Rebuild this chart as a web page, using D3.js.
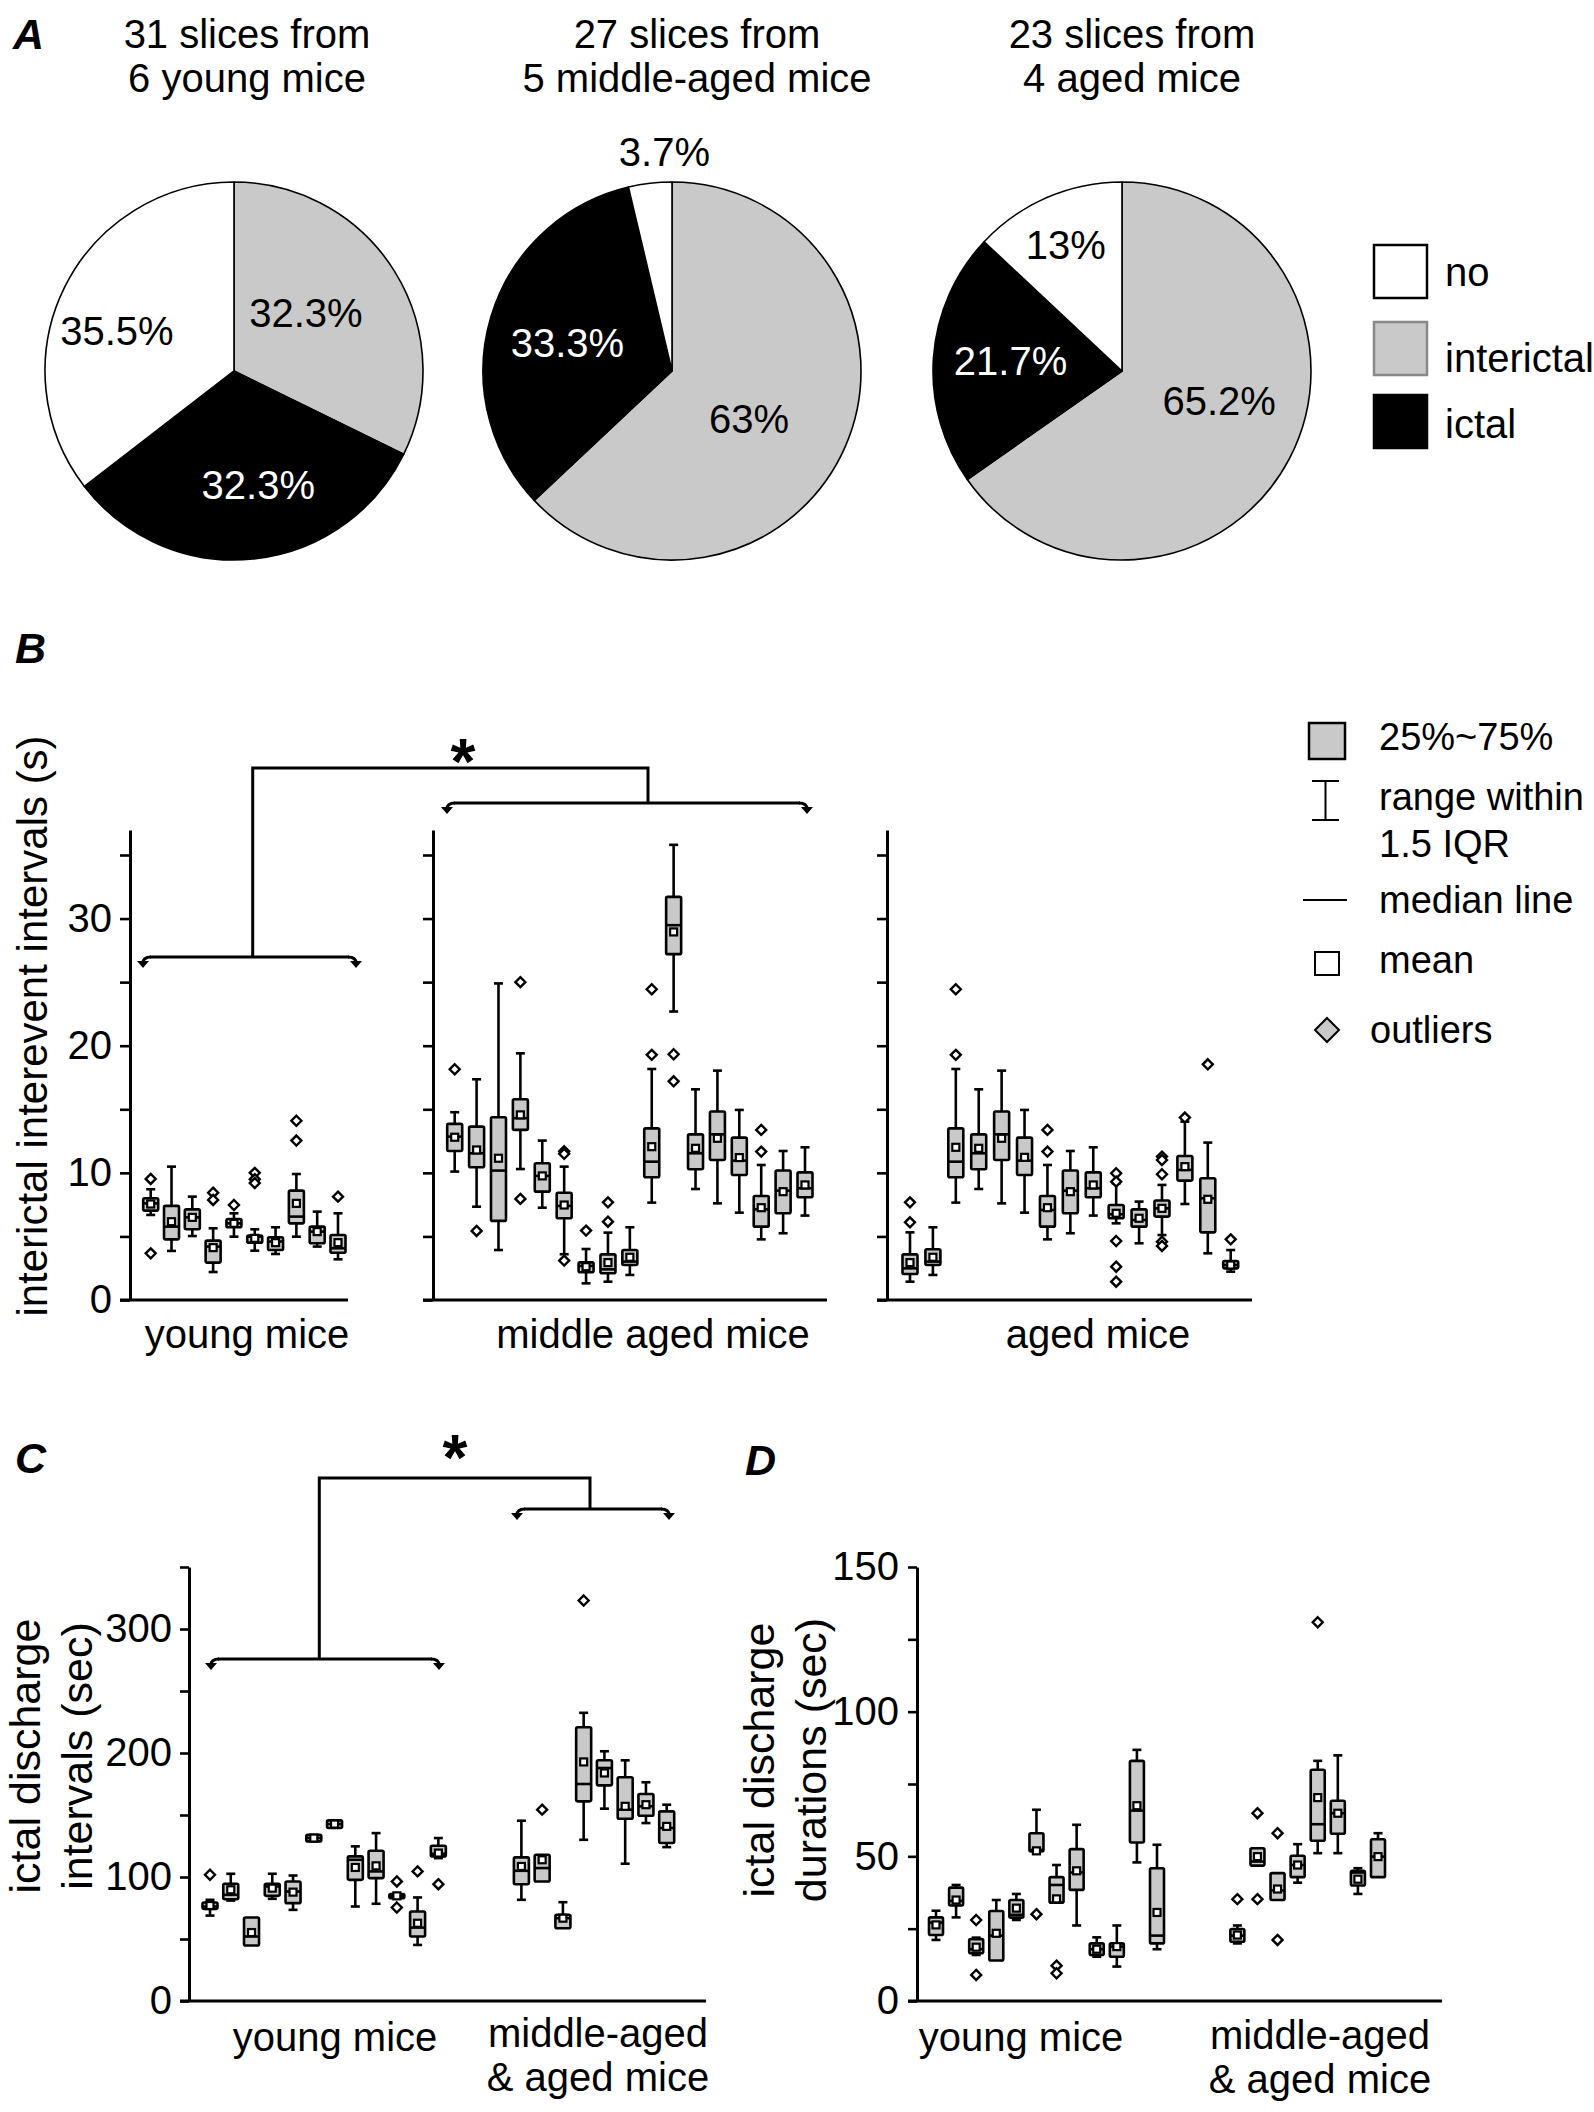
<!DOCTYPE html>
<html><head><meta charset="utf-8">
<script src="https://cdn.jsdelivr.net/npm/d3@7"></script>
<style>
body{margin:0;background:#fff}
svg{display:block;background:#fff}
text{font-family:"Liberation Sans",Arial,Helvetica,sans-serif}
</style>
</head><body>
<svg id="chart" width="1594" height="2112"></svg>
<script>
// ---------------- DATA ----------------
const pieTitles = [["31 slices from","6 young mice"],["27 slices from","5 middle-aged mice"],["23 slices from","4 aged mice"]];
const pieCategories = ["interictal","ictal","no"];
const pieYoung  = [32.3, 32.3, 35.5];
const pieMiddle = [63, 33.3, 3.7];
const pieAged   = [65.2, 21.7, 13];
const legendA   = ["no","interictal","ictal"];

const legendB = ["25%~75%","range within","1.5 IQR","median line","mean","outliers"];

// box stats: [lowWhisker, q1, median, q3, highWhisker, mean, outliers]
const bYoung = [
 [6.69,7.03,7.6,8.0,8.71,7.55,[9.52,3.67]],
 [3.86,4.77,5.77,7.4,10.49,6.16,[]],
 [5.03,5.56,6.5,7.13,8.13,6.5,[]],
 [2.2,2.94,4.2,4.67,5.64,4.12,[8.44,7.87]],
 [4.98,5.72,6.03,6.37,6.82,6.03,[7.47]],
 [3.88,4.51,4.98,5.06,5.56,4.85,[10.0,9.5,9.2]],
 [3.62,3.93,4.6,4.93,5.72,4.51,[]],
 [4.98,6.03,6.56,8.6,9.91,7.6,[14.1,12.54]],
 [4.2,4.46,5.38,5.77,6.95,5.38,[]],
 [3.2,3.72,4.07,5.11,6.82,4.51,[8.13]]
];
const bMiddle = [
 [10.1,11.72,12.85,13.85,14.77,12.8,[18.15]],
 [7.34,10.44,11.54,13.64,17.36,11.8,[5.43]],
 [3.93,6.22,10.18,14.37,24.9,11.15,[]],
 [10.3,13.38,14.3,15.79,19.4,14.56,[25.0,7.95]],
 [7.26,8.52,9.76,10.75,12.54,9.76,[]],
 [3.6,6.43,7.4,8.44,10.49,7.47,[11.7,11.5,3.1]],
 [1.31,2.18,2.68,2.96,4.01,2.62,[5.46]],
 [1.44,2.1,2.41,3.59,5.3,2.94,[7.68,6.16]],
 [1.97,2.75,3.02,3.93,5.72,3.36,[]],
 [7.66,9.65,10.88,13.5,18.17,12.06,[24.44,19.28]],
 [22.69,27.2,29.48,31.71,35.8,28.95,[19.33,17.2]],
 [8.73,10.28,11.54,13.03,16.57,11.93,[]],
 [7.6,11.01,13.03,14.82,18.04,12.72,[]],
 [6.87,9.83,10.96,12.77,14.95,11.2,[]],
 [4.77,5.77,7.13,8.18,10.62,7.26,[13.38,11.67]],
 [5.25,6.82,8.6,10.18,11.72,8.52,[]],
 [6.64,8.08,8.79,10.04,12.01,9.05,[]]
];
const bAged = [
 [1.44,2.05,2.49,3.59,5.32,2.94,[7.68,6.11]],
 [1.97,2.75,3.02,3.99,5.72,3.36,[]],
 [7.66,9.65,10.88,13.5,18.17,12.01,[24.44,19.28]],
 [8.73,10.28,11.54,13.03,16.57,11.93,[]],
 [7.6,11.01,13.03,14.82,18.04,12.72,[]],
 [6.87,9.83,10.96,12.77,14.95,11.22,[]],
 [4.77,5.77,7.08,8.18,10.62,7.26,[13.38,11.67]],
 [5.25,6.82,8.6,10.18,11.72,8.52,[]],
 [6.64,8.08,8.79,10.04,12.01,9.05,[]],
 [6.03,6.43,6.74,7.47,9.18,6.82,[9.97,9.31,4.64,2.62,1.44]],
 [4.46,5.77,6.29,7.13,7.74,6.43,[]],
 [5.11,6.56,7.21,7.82,9.05,7.21,[11.28,11.01,9.89,4.59,4.25]],
 [7.55,9.39,10.23,11.33,14.03,10.49,[14.35]],
 [3.67,5.32,8.0,9.57,12.38,7.92,[18.54]],
 [2.23,2.49,2.75,3.07,3.93,2.75,[4.77]]
];
const cYoung = [
 [68.9,74.3,76.2,79.4,81.6,77,[101.8]],
 [81,82.1,85.6,94.5,102.6,89.7,[]],
 [44.7,44.7,52,67.3,67.3,55.2,[]],
 [82.4,84.8,92.4,94.5,102.6,91,[]],
 [73.5,78.9,88.3,96.4,101.2,87.8,[]],
 [128.7,128.7,131.4,134,134,131.4,[]],
 [139.5,139.5,142.7,145.7,145.7,142.7,[]],
 [76.2,97.7,113.9,116.6,124.7,107.7,[]],
 [78.4,99.1,104.5,121.2,135.4,109,[]],
 [82.9,82.9,84.8,86.2,86.2,84.8,[96.4,75.4]],
 [45.2,52,59.2,72.2,83.5,62.7,[104.5]],
 [115.2,116.6,118.7,125.2,131.4,119.3,[94.2]]
];
const cOlder = [
 [81.6,94.2,105,115.8,145.4,108.5,[]],
 [96.4,96.4,107.2,117.9,117.9,113.9,[154.3]],
 [58.7,58.7,66.8,69.5,79.7,66.8,[]],
 [130,161,175,220.8,232.4,192.8,[323]],
 [155.1,173.9,187.9,194.1,201.4,183.9,[]],
 [110.7,147,154.3,180.4,194.1,157,[]],
 [143.5,149.4,157,166.9,176.4,158.3,[]],
 [124.1,127.4,139.5,152.9,158.3,140.8,[]]
];
const dYoung = [
 [21.1,22.8,27.1,28.9,31.2,26.3,[]],
 [28.9,33,34.6,39.2,40.1,34.9,[]],
 [15.9,16.5,17.9,21.4,21.9,18.6,[28,9]],
 [14,14,22.6,31.1,34.9,23.4,[]],
 [28,28.8,29.8,34.9,37,32.1,[]],
 [51.1,51.7,52.2,58,66.1,51.9,[30]],
 [34,34,40.1,42.8,47,35.3,[12.2,9.6]],
 [26.1,38.4,44.4,52.5,60.9,45,[]],
 [15.3,15.9,17.9,19.9,22,17.9,[]],
 [11.9,15.3,18.8,19.9,26.1,18.8,[]],
 [47.9,54.8,65.8,83,86.8,67.5,[]],
 [17.9,19.9,22.6,45.9,54,30.6,[]]
];
const dOlder = [
 [19.9,20.5,22.6,24.9,26.1,22.8,[35.2]],
 [46.8,46.8,48.2,52.8,52.8,49.9,[64.9,35.2]],
 [34.9,34.9,38.2,44.2,44.2,38.7,[58,21.1]],
 [40.9,42.8,47,50.2,54.2,47,[]],
 [51.1,55.4,61.1,79.9,83,70.3,[130.9]],
 [51.1,57.8,64.9,69.2,84.9,64.9,[]],
 [37,39.9,44.4,45,45.9,42.1,[]],
 [42.8,42.8,49.9,55.9,58,49.9,[]]
];

const bTicks = [0,5,10,15,20,25,30,35];
const bTickLabels = [0,10,20,30];
const cTicks = [0,50,100,150,200,250,300,350];
const cTickLabels = [0,100,200,300];
const dTicks = [0,25,50,75,100,125,150];
const dTickLabels = [0,50,100,150];

const bGroups = ["young mice","middle aged mice","aged mice"];
const cdGroups = [["young mice"],["middle-aged","& aged mice"]];
const bTitle = "interictal interevent intervals (s)";
const cTitle = ["ictal discharge","intervals (sec)"];
const dTitle = ["ictal discharge","durations (sec)"];

// ---------------- STYLE / LAYOUT ----------------
const GRAY = "#c9c9c9";
const catColor = {interictal: GRAY, ictal: "#000", no: "#fff"};
const FS = 40;
// label placement per pie slice: [angle (deg, clockwise from top), radius fraction]
const pieLabelPos = [
  [[51, 0.49], [168, 0.617], [289, 0.655]],
  [[122, 0.481], [285, 0.573], [358, 1.158]],
  [[107, 0.538], [275, 0.592], [336, 0.732]]
];

const svg = d3.select("#chart");

function txt(x, y, s, opt={}) {
  return svg.append("text").attr("x", x).attr("y", y)
    .attr("font-size", opt.size || FS)
    .attr("text-anchor", opt.anchor || "middle")
    .attr("fill", opt.fill || "#000")
    .attr("font-weight", opt.weight || "normal")
    .attr("font-style", opt.style || "normal")
    .text(s);
}

// panel letters
[["A",13,49],["B",15,663],["C",15,1473],["D",745,1475]].forEach(([s,x,y]) =>
  txt(x, y, s, {anchor:"start", weight:"bold", style:"italic", size:43}));

// ---------------- PANEL A : pies ----------------
const pieSets = [pieYoung, pieMiddle, pieAged];
const pieCx = [234, 672, 1122];
const pieCy = 371, pieR = 189;
const titleX = [247, 697, 1132];
const pieGen = d3.pie().sort(null).value(d => d.v);
const arc = d3.arc().innerRadius(0).outerRadius(pieR);

pieSets.forEach((vals, i) => {
  txt(titleX[i], 48, pieTitles[i][0]);
  txt(titleX[i], 92, pieTitles[i][1]);
  const g = svg.append("g").attr("transform", `translate(${pieCx[i]},${pieCy})`);
  const arcs = pieGen(vals.map((v, k) => ({v, c: pieCategories[k]})));
  g.selectAll("path").data(arcs).join("path")
    .attr("d", arc)
    .attr("fill", d => catColor[d.data.c])
    .attr("stroke", "#000").attr("stroke-width", 1.6).attr("stroke-linejoin","round");
  arcs.forEach((d, k) => {
    const [deg, rf] = pieLabelPos[i][k];
    const a = deg * Math.PI / 180;
    const r = pieR * rf;
    g.append("text")
      .attr("x", Math.sin(a) * r).attr("y", -Math.cos(a) * r)
      .attr("dy", "0.35em")
      .attr("text-anchor", "middle")
      .attr("font-size", FS)
      .attr("fill", d.data.c === "ictal" ? "#fff" : "#000")
      .text(d.data.v + "%");
  });
});

// legend A
legendA.forEach((c, i) => {
  const y0 = [245, 322, 395][i];
  svg.append("rect").attr("x", 1374).attr("y", y0).attr("width", 53).attr("height", 53)
    .attr("fill", catColor[c]).attr("stroke", c === "interictal" ? "#888" : "#000").attr("stroke-width", 2.5);
  txt(1445, [286, 372, 438][i], c, {anchor:"start"});
});

// ---------------- box drawing ----------------
function drawBoxes(data, xs, y, bw) {
  const g = svg.append("g");
  data.forEach((d, i) => {
    const [lo, q1, med, q3, hi, mean, outs] = d;
    const x = xs(i);
    const cap = 4.5;
    const line = (x1,y1,x2,y2) => g.append("line").attr("x1",x1).attr("y1",y1).attr("x2",x2).attr("y2",y2)
      .attr("stroke","#000").attr("stroke-width",2.6);
    if (hi > q3) { line(x, y(q3), x, y(hi)); line(x-cap, y(hi), x+cap, y(hi)); }
    if (lo < q1) { line(x, y(q1), x, y(lo)); line(x-cap, y(lo), x+cap, y(lo)); }
    g.append("rect").attr("x", x - bw/2).attr("y", y(q3)).attr("width", bw)
      .attr("height", Math.max(1, y(q1) - y(q3)))
      .attr("fill", GRAY).attr("stroke", "#000").attr("stroke-width", 2.6).attr("rx", 1.5);
    line(x - bw/2, y(med), x + bw/2, y(med));
    g.append("rect").attr("x", x - 3.5).attr("y", y(mean) - 3.5).attr("width", 7).attr("height", 7)
      .attr("fill", "#fff").attr("stroke", "#000").attr("stroke-width", 2.2);
    outs.forEach(o => {
      g.append("path").attr("d", `M${x},${y(o)-5}L${x+5},${y(o)}L${x},${y(o)+5}L${x-5},${y(o)}Z`)
        .attr("fill", "#fff").attr("stroke", "#000").attr("stroke-width", 2.4);
    });
  });
}

function styleAxis(g) {
  g.select(".domain").attr("stroke-width", 3);
  g.selectAll(".tick line").attr("stroke-width", 2.6);
  g.selectAll(".tick text").attr("font-size", FS).attr("fill", "#000")
    .attr("font-family", '"Liberation Sans",Arial,Helvetica,sans-serif');
  g.attr("font-family", null);
}

function hookBracket(x0, x1, y) {
  const g = svg.append("g").attr("fill","none").attr("stroke","#000").attr("stroke-width",3);
  g.append("path").attr("d", `M${x0+8},${y}H${x1-8}`);
  g.append("path").attr("d", `M${x0+9},${y}Q${x0+1},${y} ${x0+1},${y+6}`);
  g.append("path").attr("d", `M${x1-9},${y}Q${x1-1},${y} ${x1-1},${y+6}`);
  svg.append("path").attr("d", `M${x0-5},${y+4}L${x0+7},${y+4}L${x0+1},${y+11}Z`).attr("fill","#000");
  svg.append("path").attr("d", `M${x1-7},${y+4}L${x1+5},${y+4}L${x1-1},${y+11}Z`).attr("fill","#000");
}
function polyline(pts) {
  svg.append("path").attr("d", d3.line()(pts)).attr("fill","none").attr("stroke","#000").attr("stroke-width",3);
}

// ---------------- PANEL B ----------------
const yB = d3.scaleLinear().domain([0, 35 * 470 / 445]).range([1300, 830]);
const bPanels = [
  {data: bYoung,  axisX: 130, range: [150.7, 338], xEnd: 348, label: true,  lx: 247},
  {data: bMiddle, axisX: 433, range: [454.7, 805], xEnd: 827, label: false, lx: 653},
  {data: bAged,   axisX: 887, range: [910, 1230.7], xEnd: 1252, label: false, lx: 1098}
];
bPanels.forEach((p, i) => {
  const xs = d3.scalePoint().domain(d3.range(p.data.length)).range(p.range);
  const ax = svg.append("g").attr("transform", `translate(${p.axisX},0)`)
    .call(d3.axisLeft(yB).tickValues(bTicks).tickSize(10).tickSizeOuter(0).tickPadding(8)
      .tickFormat(d => p.label && bTickLabels.includes(d) ? d : ""));
  styleAxis(ax);
  svg.append("line").attr("x1", p.axisX - 10).attr("x2", p.xEnd).attr("y1", yB(0)).attr("y2", yB(0))
    .attr("stroke", "#000").attr("stroke-width", 3);
  drawBoxes(p.data, xs, yB, 15);
  txt(p.lx, 1348, bGroups[i]);
});
svg.append("text").attr("transform", "translate(47,1026) rotate(-90)")
  .attr("text-anchor", "middle").attr("font-size", 42).text(bTitle);

// brackets B
hookBracket(142, 357, 957);
hookBracket(446, 808, 803);
polyline([[252.7, 957], [252.7, 768], [648, 768], [648, 803]]);
txt(463, 784, "*", {weight:"bold", size:64});

// legend B
svg.append("rect").attr("x", 1309).attr("y", 723).attr("width", 36).attr("height", 36)
  .attr("fill", GRAY).attr("stroke", "#000").attr("stroke-width", 2.5);
txt(1379, 750, legendB[0], {anchor:"start", size:38});
[[1325.5,781,1325.5,820],[1312,781,1339,781],[1312,820,1339,820],[1303,900,1347,900]].forEach(([a,b,c,d]) =>
  svg.append("line").attr("x1",a).attr("y1",b).attr("x2",c).attr("y2",d).attr("stroke","#000").attr("stroke-width",2));
txt(1379, 810, legendB[1], {anchor:"start", size:38});
txt(1379, 857, legendB[2], {anchor:"start", size:38});
txt(1379, 913, legendB[3], {anchor:"start", size:38});
svg.append("rect").attr("x", 1315).attr("y", 952).attr("width", 24).attr("height", 23)
  .attr("fill", "#fff").attr("stroke", "#000").attr("stroke-width", 2);
txt(1379, 973, legendB[4], {anchor:"start", size:38});
svg.append("path").attr("d", "M1327,1018L1339,1030L1327,1042L1315,1030Z")
  .attr("fill", GRAY).attr("stroke", "#000").attr("stroke-width", 2);
txt(1370, 1043, legendB[5], {anchor:"start", size:38});

// ---------------- PANEL C ----------------
const yC = d3.scaleLinear().domain([0, 350]).range([2001, 1567]);
const xC = d3.scalePoint().domain(d3.range(23)).range([210, 666.7]);
const axC = svg.append("g").attr("transform", "translate(189,0)")
  .call(d3.axisLeft(yC).tickValues(cTicks).tickSize(9).tickSizeOuter(0).tickPadding(8)
    .tickFormat(d => cTickLabels.includes(d) ? d : ""));
styleAxis(axC);
svg.append("line").attr("x1", 180).attr("x2", 706).attr("y1", yC(0)).attr("y2", yC(0))
  .attr("stroke", "#000").attr("stroke-width", 3);
drawBoxes(cYoung, i => xC(i), yC, 15);
drawBoxes(cOlder, i => xC(i + 15), yC, 15);
cTitle.forEach((s, k) => svg.append("text").attr("transform", `translate(${[40, 92][k]},1756) rotate(-90)`)
  .attr("text-anchor", "middle").attr("font-size", 43).text(s));
txt(335, 2051, cdGroups[0][0]);
txt(598, 2047, cdGroups[1][0]);
txt(598, 2091, cdGroups[1][1]);
hookBracket(210, 440, 1659);
hookBracket(516, 670, 1509);
polyline([[319.3, 1659], [319.3, 1478], [590, 1478], [590, 1509]]);
txt(455, 1480, "*", {weight:"bold", size:64});

// ---------------- PANEL D ----------------
const yD = d3.scaleLinear().domain([0, 150]).range([2001, 1567]);
const xD = d3.scalePoint().domain(d3.range(23)).range([936, 1378]);
const axD = svg.append("g").attr("transform", "translate(917,0)")
  .call(d3.axisLeft(yD).tickValues(dTicks).tickSize(9).tickSizeOuter(0).tickPadding(9)
    .tickFormat(d => dTickLabels.includes(d) ? d : ""));
styleAxis(axD);
svg.append("line").attr("x1", 908).attr("x2", 1442).attr("y1", yD(0)).attr("y2", yD(0))
  .attr("stroke", "#000").attr("stroke-width", 3);
drawBoxes(dYoung, i => xD(i), yD, 14);
drawBoxes(dOlder, i => xD(i + 15), yD, 14);
dTitle.forEach((s, k) => svg.append("text").attr("transform", `translate(${[774, 826][k]},1760) rotate(-90)`)
  .attr("text-anchor", "middle").attr("font-size", 43).text(s));
txt(1021, 2051, cdGroups[0][0]);
txt(1320, 2049, cdGroups[1][0]);
txt(1320, 2093, cdGroups[1][1]);
</script>
</body></html>
